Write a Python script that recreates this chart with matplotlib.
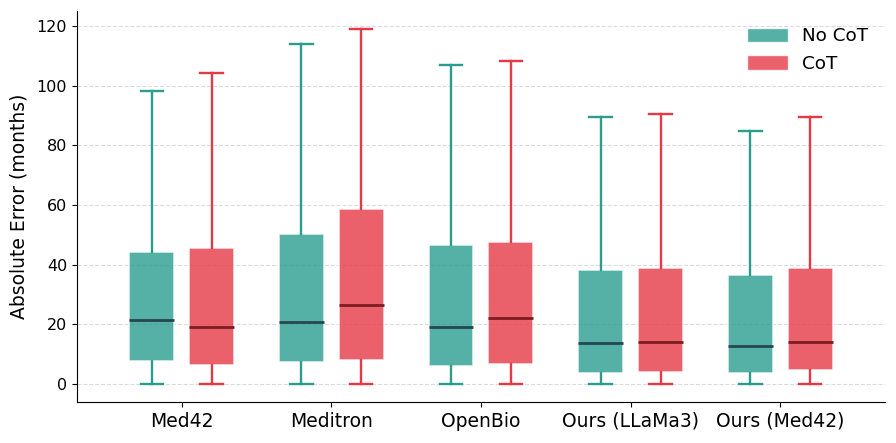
import matplotlib
matplotlib.use("Agg")
import matplotlib.pyplot as plt
from matplotlib.patches import Patch
import numpy as np

models = ["Med42", "Meditron", "OpenBio", "Ours (LLaMa3)", "Ours (Med42)"]

# summary stats: min, q1, median, q3, max
nocot_min = [0, 0, 0, 0, 0]
nocot_q1 = [7.8, 7.5, 6.0, 3.9, 3.9]
nocot_med = [21.5, 20.7, 19.1, 13.8, 12.9]
nocot_q3 = [44.1, 50.4, 46.6, 38.3, 36.5]
nocot_max = [98.2, 113.9, 107.0, 89.4, 84.7]

cot_min = [0, 0, 0, 0, 0]
cot_q1 = [6.4, 8.1, 6.7, 4.2, 4.6]
cot_med = [19.2, 26.6, 22.1, 14.2, 14.0]
cot_q3 = [45.7, 58.6, 47.6, 39.0, 38.8]
cot_max = [104.1, 119.0, 108.3, 90.5, 89.5]

teal = "#2a9d8f"
red = "#e63946"
teal_dark = "#264653"
red_dark = "#7a1c24"


def make_stats(mn, q1, med, q3, mx):
    return [dict(whislo=a, q1=b, med=c, q3=d, whishi=e, fliers=[])
            for a, b, c, d, e in zip(mn, q1, med, q3, mx)]


fig = plt.figure(figsize=(8.96, 4.43), dpi=100)
ax = fig.add_axes([0.0859, 0.0926, 0.9018, 0.8826])

x = np.arange(len(models))
groups = [
    (make_stats(nocot_min, nocot_q1, nocot_med, nocot_q3, nocot_max), -0.2, teal, teal_dark),
    (make_stats(cot_min, cot_q1, cot_med, cot_q3, cot_max), 0.2, red, red_dark),
]
for stats, off, col, dark in groups:
    ax.bxp(stats, positions=x + off, widths=0.3, patch_artist=True,
           showfliers=False, manage_ticks=False,
           boxprops=dict(facecolor=col, edgecolor="white", alpha=0.8, linewidth=1.2),
           whiskerprops=dict(color=col, linewidth=1.7),
           capprops=dict(color=col, linewidth=1.7),
           medianprops=dict(color=dark, linewidth=2))

ax.set_xticks(x)
ax.set_xticklabels(models, fontsize=13.5)
ax.tick_params(axis="y", labelsize=11.5)
ax.set_ylabel("Absolute Error (months)", fontsize=13.5, labelpad=6)
ax.set_xlim(-0.7, 4.7)
ax.set_ylim(-5.95, 124.95)
ax.set_yticks(np.arange(0, 121, 20))
ax.yaxis.grid(True, linestyle="--", color="#cccccc", alpha=0.7)
ax.set_axisbelow(True)
ax.spines["top"].set_visible(False)
ax.spines["right"].set_visible(False)

handles = [Patch(facecolor=teal, edgecolor="white", alpha=0.8, label="No CoT"),
           Patch(facecolor=red, edgecolor="white", alpha=0.8, label="CoT")]
ax.legend(handles=handles, loc="upper right", frameon=False, fontsize=13.2,
          handlelength=2.2, handleheight=0.85)

fig.savefig("out.png", dpi=100)
